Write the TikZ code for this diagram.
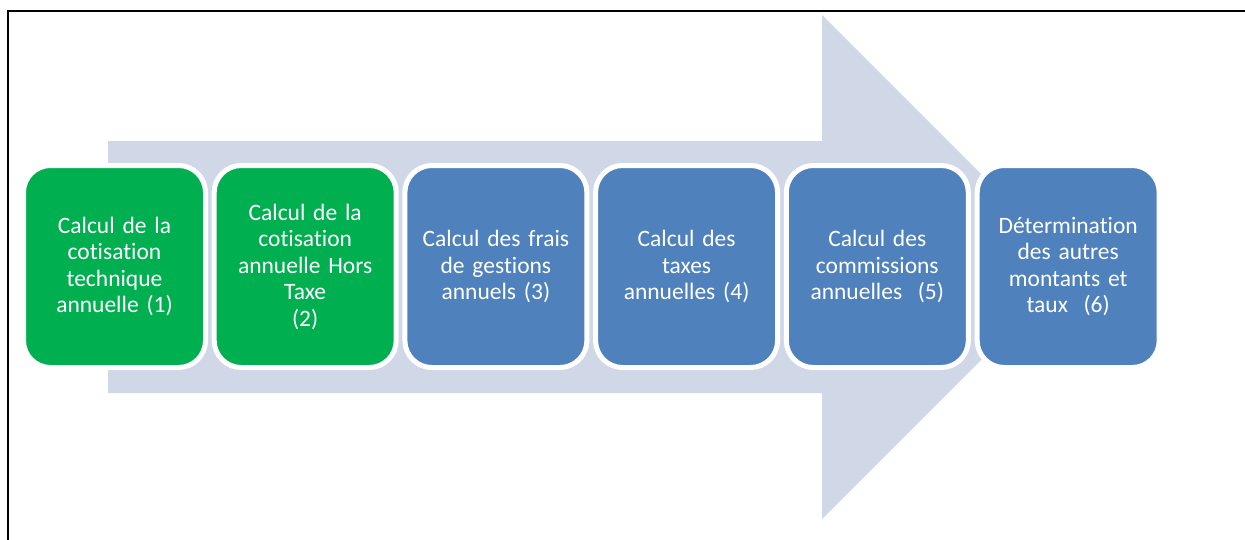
\documentclass[tikz,border=0pt]{standalone}
\usepackage{fontspec}
\setmainfont[Ligatures=NoCommon]{Carlito}
\definecolor{stepgreen}{HTML}{00B050}
\definecolor{stepblue}{HTML}{4F81BD}
\definecolor{arrowfill}{HTML}{D0D8E8}
\begin{document}
\begin{tikzpicture}[x=1pt,y=-1pt,
  stepbox/.style={rounded corners=27pt, draw=white, line width=5pt,
    minimum width=182pt, minimum height=202pt, inner sep=0pt,
    text width=172pt, align=center, text=white,
    font=\fontsize{23.5}{26.5}\selectfont},
  greenbox/.style={stepbox, fill=stepgreen},
  bluebox/.style={stepbox, fill=stepblue}]
\useasboundingbox (0,0) rectangle (1245,539);
% frame
\draw[line width=2pt] (8,545) -- (8,11) -- (1250,11);
% big arrow
\fill[arrowfill] (108,141) -- (822,141) -- (822,15) -- (1074,267)
  -- (822,519) -- (822,393) -- (108,393) -- cycle;
% steps
\node[greenbox] (s1) at (114.5,266.5) {Calcul de la\\cotisation\\technique\\annuelle (1)};
\node[greenbox] (s2) at (305.2,266.5) {Calcul de la\\cotisation\\annuelle Hors\\Taxe\\(2)};
\node[bluebox] (s3) at (495.9,266.5) {Calcul des frais\\de gestions\\annuels (3)};
\node[bluebox] (s4) at (686.6,266.5) {Calcul des\\taxes\\annuelles (4)};
\node[bluebox] (s5) at (877.3,266.5) {Calcul des\\commissions\\annuelles\ \ (5)};
\node[bluebox] (s6) at (1068.2,266.5) {Détermination\\des autres\\montants et\\taux\ \ (6)};
\end{tikzpicture}
\end{document}
